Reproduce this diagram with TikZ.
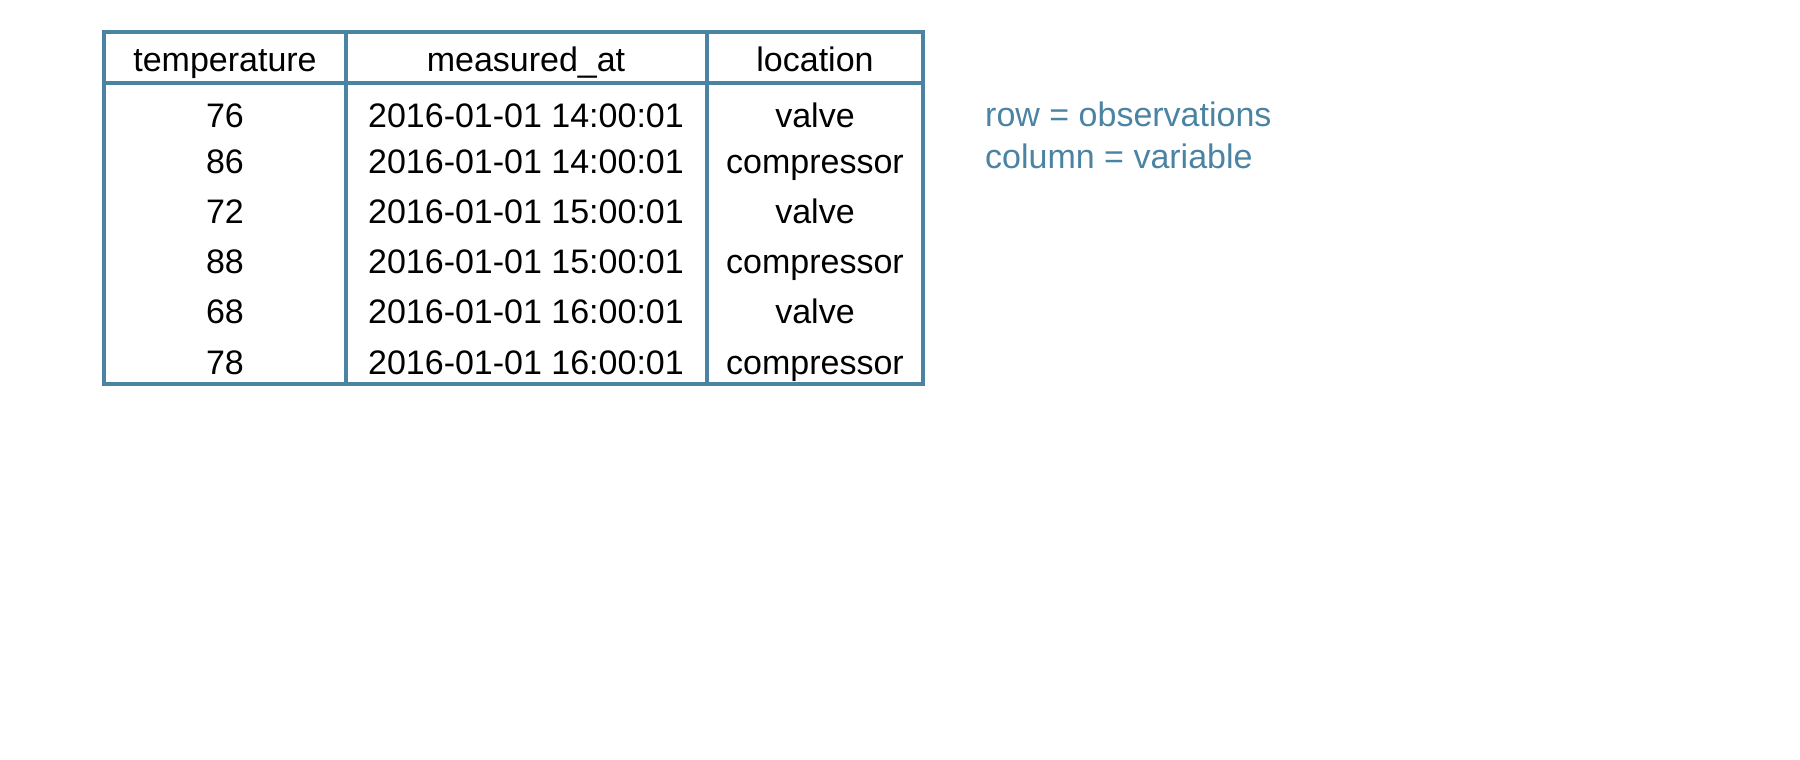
\documentclass[tikz,border=0pt]{standalone}
\usepackage{fontspec}
\setmainfont{Liberation Sans}
\definecolor{tblue}{HTML}{4A84A2}
\begin{document}
\begin{tikzpicture}[x=1pt,y=-1pt,
  cell/.style={font=\fontsize{34}{40}\selectfont,text=black,inner sep=0pt,anchor=base},
  note/.style={font=\fontsize{34}{40}\selectfont,text=tblue,inner sep=0pt,anchor=base west},
  rule/.style={draw=tblue,line width=3.5pt}]
\useasboundingbox (0,0) rectangle (1800,760);
\coordinate (tl) at (104,32); \coordinate (br) at (923,384);
\coordinate (h1) at (104,83); \coordinate (h2) at (923,83);
\coordinate (c1t) at (346,32); \coordinate (c1b) at (346,384);
\coordinate (c2t) at (707,32); \coordinate (c2b) at (707,384);
\draw[rule] (tl) rectangle (br);
\draw[rule] (h1) -- (h2);
\draw[rule] (c1t) -- (c1b);
\draw[rule] (c2t) -- (c2b);
\node[cell] (ha) at (225,72) {temperature};
\node[cell] (hb) at (526,72) {measured\_at};
\node[cell] (hc) at (815,72) {location};
\foreach \y/\t/\d/\l [count=\i] in {127/76/14/valve,173/86/14/compressor,223/72/15/valve,273/88/15/compressor,323/68/16/valve,374/78/16/compressor}{
  \node[cell] (a\i) at (225,\y) {\t};
  \node[cell] (b\i) at (526,\y) {2016-01-01 \d:00:01};
  \node[cell] (c\i) at (815,\y) {\l};
}
\node[note] (n1) at (985,126) {row = observations};
\node[note] (n2) at (985,168) {column = variable};
\end{tikzpicture}
\end{document}
